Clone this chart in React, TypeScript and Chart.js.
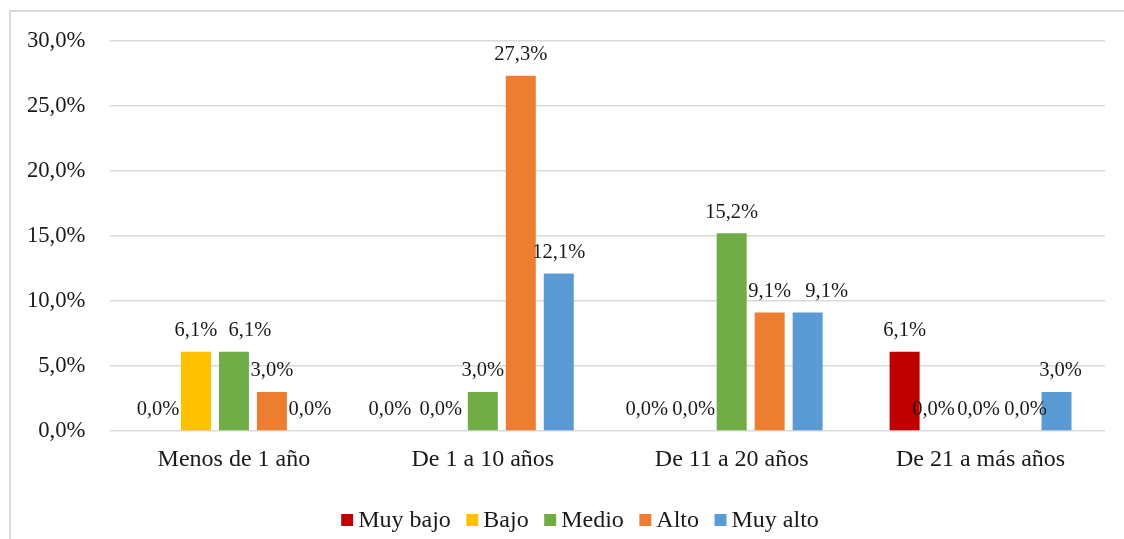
import React, { useEffect, useRef } from "react";
import { Chart, registerables } from "chart.js";

Chart.register(...registerables);

const categories = ["Menos de 1 año", "De 1 a 10 años", "De 11 a 20 años", "De 21 a más años"];
const seriesNames = ["Muy bajo", "Bajo", "Medio", "Alto", "Muy alto"];
const muyBajo = [0.0, 0.0, 0.0, 6.1];
const bajo = [6.1, 0.0, 0.0, 0.0];
const medio = [6.1, 3.0, 15.2, 0.0];
const alto = [3.0, 27.3, 9.1, 0.0];
const muyAlto = [0.0, 12.1, 9.1, 3.0];
const seriesColors = ["#C00000", "#FFC000", "#70AD47", "#ED7D31", "#5B9BD5"];
const yTicks = [0, 5, 10, 15, 20, 25, 30];

// horizontal nudges of data labels (Excel overlap avoidance), per series per category
const labelShift = [
  [0, -17, -9, 0],
  [0, -4, 0, -9],
  [16, 0, 0, -2],
  [0, 0, 0, 7],
  [0, 0, 19, 4],
];

const FONT = '"Liberation Serif", "Times New Roman", serif';
const TEXT = "#1a1a1a";
const fmt = (v: number) => v.toFixed(1).replace(".", ",") + "%";

const labelsPlugin = {
  id: "barLabels",
  afterDatasetsDraw(chart: any) {
    const ctx = chart.ctx;
    ctx.save();
    ctx.font = `20.5px ${FONT}`;
    ctx.fillStyle = TEXT;
    ctx.textAlign = "center";
    ctx.textBaseline = "middle";
    chart.data.datasets.forEach((ds: any, di: number) => {
      const meta = chart.getDatasetMeta(di);
      meta.data.forEach((el: any, i: number) => {
        const v = ds.data[i];
        ctx.fillText(fmt(v), el.x + labelShift[di][i], el.y - 21);
      });
    });
    ctx.restore();
  },
};

const legendPlugin = {
  id: "customLegend",
  afterDraw(chart: any) {
    const ctx = chart.ctx;
    ctx.save();
    ctx.font = `24px ${FONT}`;
    ctx.textBaseline = "alphabetic";
    ctx.textAlign = "left";
    const box = 12;
    const gap = 5;
    const itemGap = 15.5;
    const widths = chart.data.datasets.map((d: any) => ctx.measureText(d.label).width);
    const total =
      widths.reduce((a: number, b: number) => a + b, 0) +
      chart.data.datasets.length * (box + gap) +
      (chart.data.datasets.length - 1) * itemGap;
    let x = 580 - total / 2;
    const baseline = 527;
    chart.data.datasets.forEach((d: any, i: number) => {
      ctx.fillStyle = d.backgroundColor;
      ctx.fillRect(x, baseline - 13, box, box);
      x += box + gap;
      ctx.fillStyle = TEXT;
      ctx.fillText(d.label, x, baseline);
      x += widths[i] + itemGap;
    });
    ctx.restore();
  },
};

export default function App() {
  const ref = useRef<HTMLCanvasElement | null>(null);
  useEffect(() => {
    if (!ref.current) return;
    const values = [muyBajo, bajo, medio, alto, muyAlto];
    const chart = new Chart(ref.current, {
      type: "bar",
      data: {
        labels: categories,
        datasets: seriesNames.map((name, i) => ({
          label: name,
          data: values[i],
          backgroundColor: seriesColors[i],
          borderWidth: 0,
          categoryPercentage: 0.763,
          barPercentage: 0.79,
        })),
      },
      options: {
        responsive: false,
        animation: false,
        devicePixelRatio: 1,
        layout: { padding: { top: 40.7, right: 19, bottom: 0, left: 0 } },
        plugins: {
          legend: { display: false },
          tooltip: { enabled: false },
        },
        scales: {
          x: {
            grid: { display: false, drawTicks: false },
            border: { display: false },
            ticks: {
              padding: 14,
              color: TEXT,
              font: { family: FONT, size: 24 },
              maxRotation: 0,
            },
            afterFit: (s: any) => {
              s.height = 108;
            },
          },
          y: {
            min: 0,
            max: 30,
            afterBuildTicks: (s: any) => {
              s.ticks = yTicks.map((v) => ({ value: v }));
            },
            grid: { color: "#d9d9d9", lineWidth: 1.5, drawTicks: false },
            border: { display: false },
            ticks: {
              padding: 24,
              color: TEXT,
              font: { family: FONT, size: 22.7 },
              callback: (v: any) => fmt(Number(v)),
            },
            afterFit: (s: any) => {
              s.width = 109.5;
            },
          },
        },
      },
      plugins: [labelsPlugin, legendPlugin],
    });
    return () => chart.destroy();
  }, []);

  return (
    <div
      style={{
        position: "fixed",
        left: 0,
        top: 0,
        width: 1124,
        height: 539,
        overflow: "hidden",
        background: "#fff",
      }}
    >
      <div
        style={{
          position: "absolute",
          left: 8.5,
          top: 10,
          width: 1124,
          height: 2,
          background: "#d9d9d9",
        }}
      />
      <div
        style={{
          position: "absolute",
          left: 8.5,
          top: 10,
          width: 2,
          height: 540,
          background: "#d9d9d9",
        }}
      />
      <canvas
        ref={ref}
        width={1124}
        height={539}
        style={{ position: "absolute", left: 0, top: 0, width: 1124, height: 539 }}
      />
    </div>
  );
}
